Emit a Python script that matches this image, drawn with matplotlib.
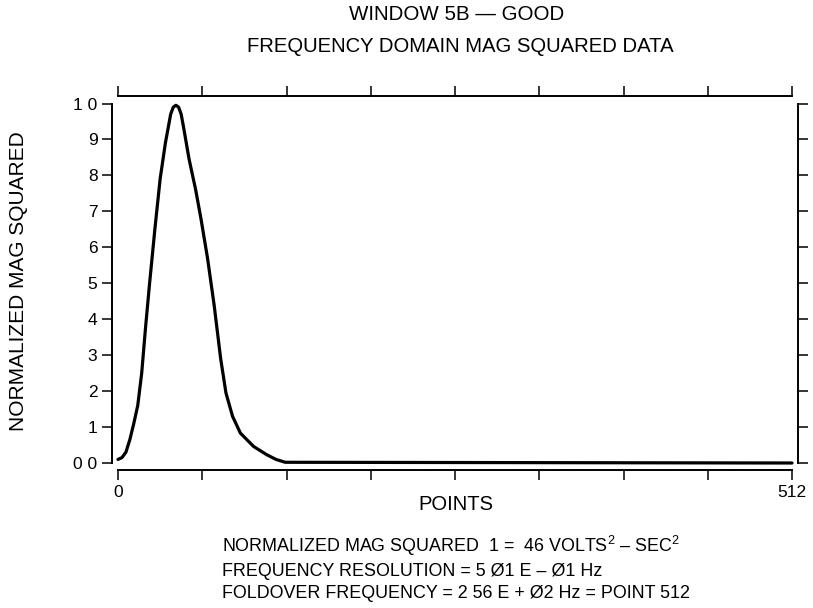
"""
plot.py
Window 5B frequency domain magnitude squared plot (old report style).
"""
import numpy as np
import matplotlib
matplotlib.use("Agg")
import matplotlib.pyplot as plt

plt.rcParams["font.family"] = ["Liberation Sans", "DejaVu Sans"]
plt.rcParams["mathtext.fontset"] = "custom"
plt.rcParams["mathtext.rm"] = "Liberation Sans"

# data (x in points, y normalized)
points = [0, 3, 6, 9, 12, 15, 18, 21, 24, 28, 32, 36, 40, 42, 44, 46, 48, 50,
          54, 59, 63, 68, 73, 78, 82, 87, 93, 103, 113, 120, 127, 512]
mag_sq = [0.01, 0.015, 0.03, 0.065, 0.11, 0.16, 0.25, 0.38, 0.50, 0.65, 0.79,
          0.89, 0.97, 0.99, 0.995, 0.99, 0.97, 0.93, 0.845, 0.76, 0.68, 0.57,
          0.44, 0.29, 0.195, 0.13, 0.083, 0.046, 0.023, 0.01, 0.002, 0.0]

x_ticks = [0, 64, 128, 192, 256, 320, 384, 448, 512]
x_labels = ["0", "", "", "", "", "", "", "", "512"]
y_ticks = [0.0, 0.1, 0.2, 0.3, 0.4, 0.5, 0.6, 0.7, 0.8, 0.9, 1.0]
y_labels = ["0 0", "1", "2", "3", "4", "5", "6", "7", "8", "9", "1 0"]

notes = [
    "NORMALIZED MAG SQUARED  1 =  46 VOLTS$^{2}$ \u2013 SEC$^{2}$",
    "FREQUENCY RESOLUTION = 5 \u00d81 E \u2013 \u00d81 Hz",
    "FOLDOVER FREQUENCY = 2 56 E + \u00d82 Hz = POINT 512",
]

W, H = 813, 608
fig = plt.figure(figsize=(W / 100, H / 100), dpi=100)
ax = fig.add_axes([118 / W, 1 - 463 / H, (792 - 118) / W, (463 - 103.5) / H])

ax.plot(points, mag_sq, color="black", lw=2.3, clip_on=False,
        solid_capstyle="round", solid_joinstyle="round")
ax.set_xlim(0, 512)
ax.set_ylim(0, 1)

# detached spines like the old plotter output
for side, off in [("left", 4.3), ("right", 4.3), ("bottom", 5.0), ("top", 5.6)]:
    ax.spines[side].set_position(("outward", off))
    ax.spines[side].set_linewidth(1.4)
ax.spines["left"].set_bounds(0, 1)
ax.spines["right"].set_bounds(0, 1)
ax.spines["bottom"].set_bounds(0, 512)
ax.spines["top"].set_bounds(0, 512)

ax.set_xticks(x_ticks)
ax.set_xticklabels(x_labels)
ax.set_yticks(y_ticks)
ax.set_yticklabels(y_labels)
ax.tick_params(direction="out", length=7, width=1.1, labelsize=12.5,
               top=True, right=True)
ax.tick_params(axis="x", pad=4.0)
ax.tick_params(axis="y", pad=3.5)

fig.text(457 / W, 1 - 14 / H, "WINDOW 5B \u2014 GOOD", ha="center", va="center",
         fontsize=14.8)
fig.text(460 / W, 1 - 46 / H, "FREQUENCY DOMAIN MAG SQUARED DATA", ha="center",
         va="center", fontsize=14.6)
fig.text(456 / W, 1 - 504 / H, "POINTS", ha="center", va="center", fontsize=14.5)
fig.text(19 / W, 1 - 281 / H, "NORMALIZED MAG SQUARED", ha="center", va="center",
         rotation=90, fontsize=15)

for y, line in zip([546, 571, 594], notes):
    fig.text(222 / W, 1 - y / H, line, ha="left", va="center", fontsize=12.9)

fig.savefig("out.png", dpi=100)
